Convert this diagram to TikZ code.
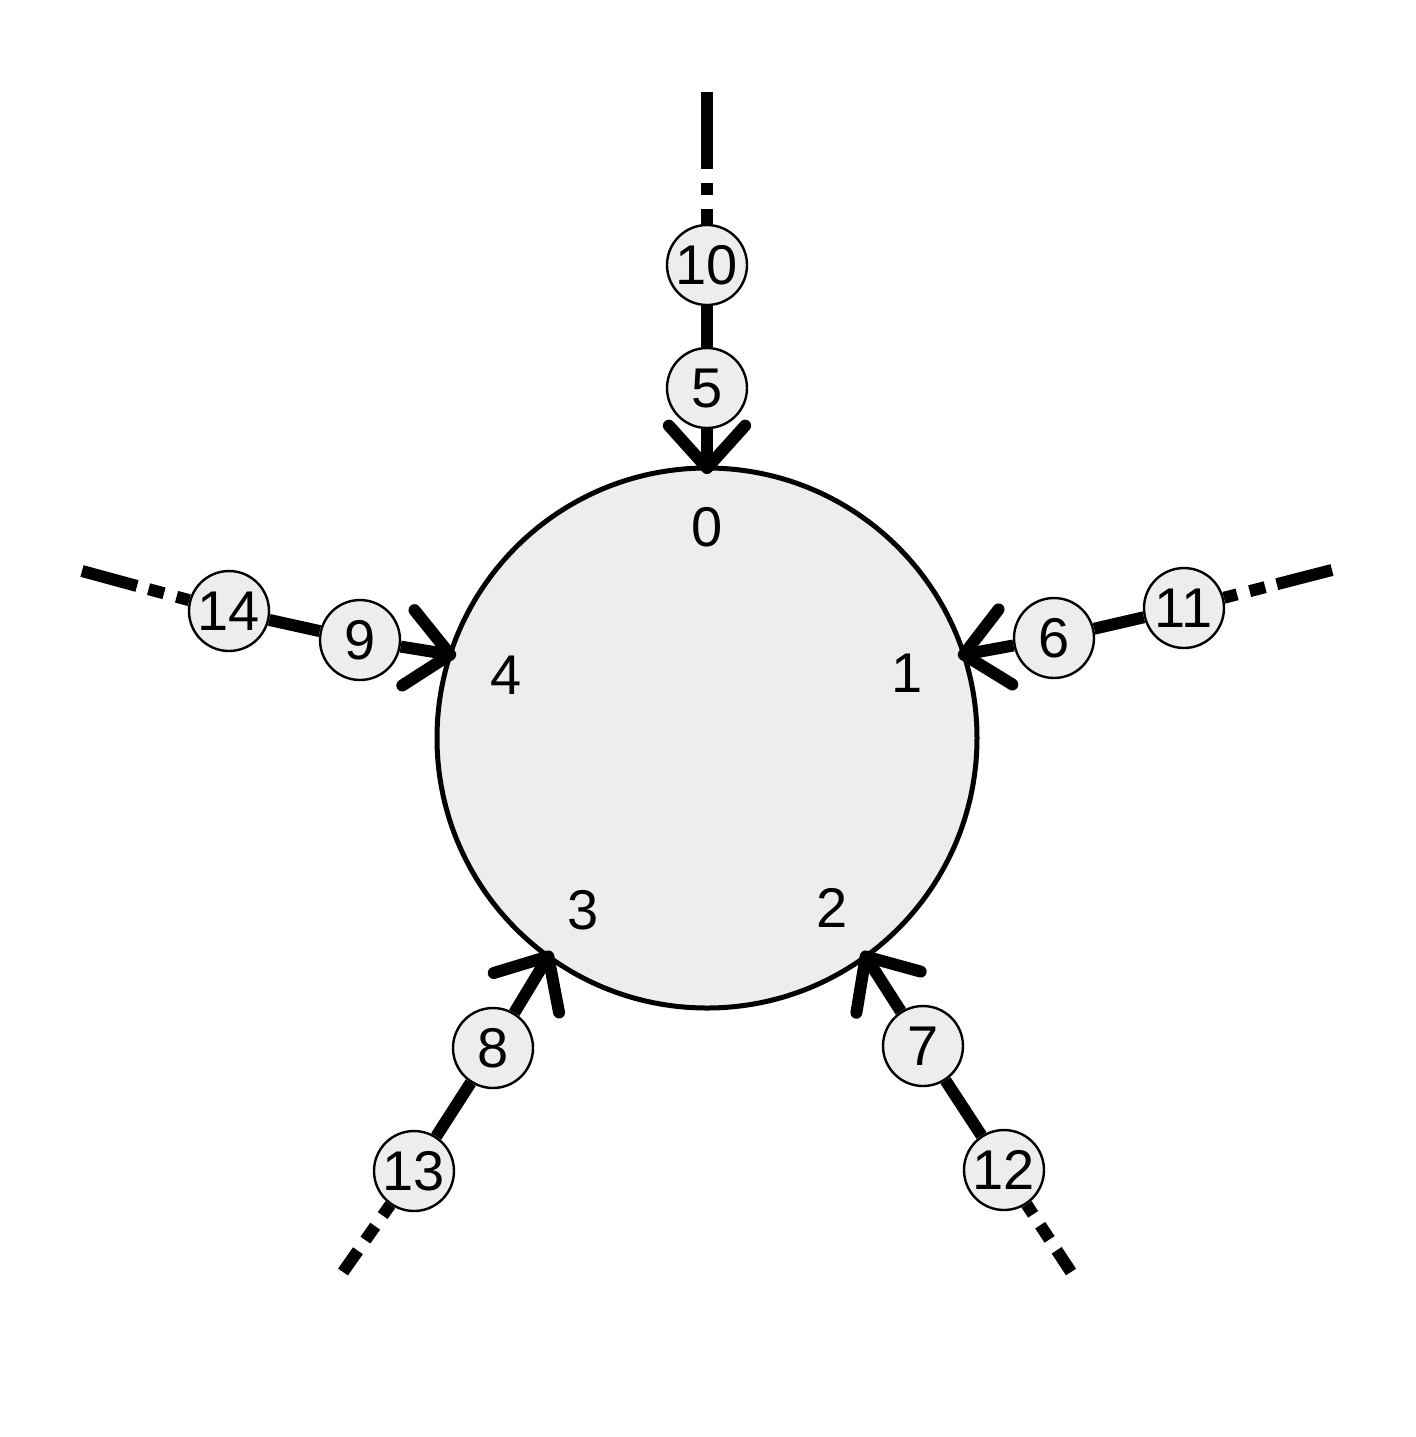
\documentclass[tikz,border=0pt]{standalone}
\usepackage{fontspec}
\setmainfont{Liberation Sans}
\usetikzlibrary{calc,backgrounds}
\definecolor{fillgray}{HTML}{EDEDED}
\begin{document}
\begin{tikzpicture}[x=0.5pt,y=-0.5pt,
  bignode/.style={circle,draw,line width=2.5pt,fill=fillgray,minimum size=270pt,inner sep=0pt,outer sep=0pt},
  smallnode/.style={circle,draw,line width=1.2pt,fill=fillgray,minimum size=40pt,inner sep=0pt,font=\fontsize{28}{30}\selectfont},
  lbl/.style={inner sep=0pt,font=\fontsize{28}{30}\selectfont},
  spoke/.style={line width=6pt},
  barb/.style={line width=6pt,line cap=round,line join=round},
  topdash/.style={spoke,dash pattern=on 38.5pt off 7pt on 6pt off 7pt on 150pt},
  sidedash/.style={spoke,dash pattern=on 28.5pt off 6pt on 8pt off 6.5pt on 150pt},
  lowdash/.style={spoke,dash pattern=on 13pt off 6.5pt on 8.5pt off 6.5pt on 150pt}]
\useasboundingbox (0,0) rectangle (1416,1437);

% outer ends
\coordinate (e0) at (707,92);
\coordinate (e1) at (1332,570);
\coordinate (e2) at (1071,1272);
\coordinate (e3) at (343,1272);
\coordinate (e4) at (82,571);

% small nodes
\node[smallnode] (n5) at (707,388) {5};
\node[smallnode] (n10) at (707,265) {10};
\node[smallnode] (n6) at (1054,638) {6};
\node[smallnode] (n11) at (1184,608) {11};
\node[smallnode] (n7) at (923,1046) {7};
\node[smallnode] (n12) at (1004,1170) {12};
\node[smallnode] (n8) at (493,1048) {8};
\node[smallnode] (n13) at (414,1171) {13};
\node[smallnode] (n9) at (360,640) {9};
\node[smallnode] (n14) at (229,611) {14};

\begin{pgfonlayer}{background}
\fill[white] (0,0) rectangle (1416,1437);
\node[bignode] (c) at (707,738) {};
% spoke 0
\draw[spoke] (c.90) -- (n5);
\draw[spoke] (n5) -- (n10);
\draw[topdash] (e0) -- (n10);
\draw[barb] ($(c.90)!28.5pt!42:(n5)$) -- (c.90) -- ($(c.90)!28.5pt!-42:(n5)$);
% spoke 1
\draw[spoke] (c.18) -- (n6);
\draw[spoke] (n6) -- (n11);
\draw[sidedash] (e1) -- (n11);
\draw[barb] ($(c.18)!28.5pt!42:(n6)$) -- (c.18) -- ($(c.18)!28.5pt!-42:(n6)$);
% spoke 2
\draw[spoke] (c.-54) -- (n7);
\draw[spoke] (n7) -- (n12);
\draw[lowdash] (e2) -- (n12);
\draw[barb] ($(c.-54)!28.5pt!42:(n7)$) -- (c.-54) -- ($(c.-54)!28.5pt!-42:(n7)$);
% spoke 3
\draw[spoke] (c.-126) -- (n8);
\draw[spoke] (n8) -- (n13);
\draw[lowdash] (e3) -- (n13);
\draw[barb] ($(c.-126)!28.5pt!42:(n8)$) -- (c.-126) -- ($(c.-126)!28.5pt!-42:(n8)$);
% spoke 4
\draw[spoke] (c.162) -- (n9);
\draw[spoke] (n9) -- (n14);
\draw[sidedash] (e4) -- (n14);
\draw[barb] ($(c.162)!28.5pt!42:(n9)$) -- (c.162) -- ($(c.162)!28.5pt!-42:(n9)$);
\end{pgfonlayer}

% inner labels
\node[lbl] (l0) at (707,527) {0};
\node[lbl] (l1) at (907,673) {1};
\node[lbl] (l2) at (832,908) {2};
\node[lbl] (l3) at (583,910) {3};
\node[lbl] (l4) at (506,675) {4};
\end{tikzpicture}
\end{document}
